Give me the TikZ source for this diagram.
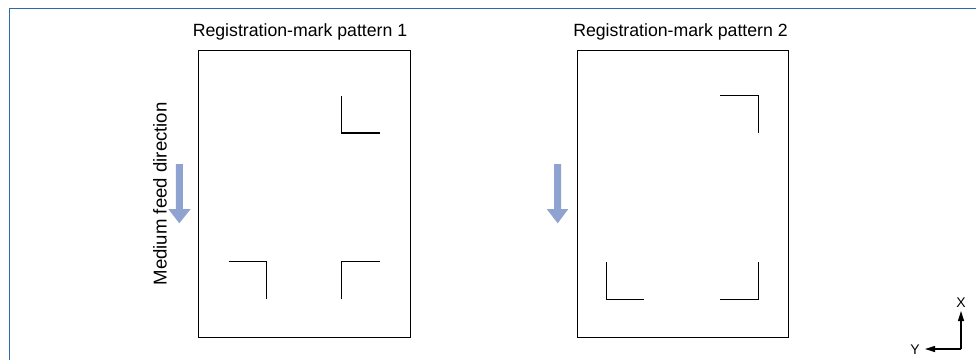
\documentclass[tikz,border=0pt]{standalone}
\usepackage{fontspec}
\setmainfont{Liberation Sans}
\usetikzlibrary{arrows.meta}
\definecolor{framecol}{RGB}{40,105,175}
\definecolor{feedcol}{RGB}{143,163,209}
\tikzset{
  sheet/.style={draw=black, line width=1pt, minimum width=211.7pt, minimum height=287pt, inner sep=0pt, anchor=north west},
  title/.style={font=\fontsize{17.7}{20}\selectfont, inner sep=0pt},
  regmark/.style={draw=black, line width=1.5pt, line cap=butt, line join=miter},
  feed/.style={fill=feedcol, draw=none},
  axis/.style={draw=black, line width=1.1pt, -{Triangle[length=10pt,width=6pt]}},
  axlabel/.style={font=\fontsize{14}{16}\selectfont, inner sep=0pt}
}
\begin{document}
\begin{tikzpicture}[x=1pt,y=-1pt]
\useasboundingbox (0,0) rectangle (976,360);
% frame
\draw[framecol, line width=1.5pt] (9.5,360) -- (9.5,8.5) -- (976,8.5);
% sheets
\node[sheet] (p1) at (198.3,50.3) {};
\node[sheet] (p2) at (576.7,50.3) {};
\node[title] (t1) at (300,31.5) {Registration-mark pattern 1};
\node[title] (t2) at (680.5,31.5) {Registration-mark pattern 2};
% marks pattern 1
\draw[regmark] (341.7,95.7) -- (341.7,133) -- (380,133);
\draw[regmark] (228.7,261.7) -- (266.7,261.7) -- (266.7,299.3);
\draw[regmark] (341.7,299.3) -- (341.7,261.7) -- (380,261.7);
% marks pattern 2
\draw[regmark] (720,95.7) -- (758.3,95.7) -- (758.3,133);
\draw[regmark] (606.7,262) -- (606.7,299.3) -- (644.3,299.3);
\draw[regmark] (720,299.3) -- (758.3,299.3) -- (758.3,262);
% feed arrows
\fill[feed] (175.8,164) -- (182.8,164) -- (182.8,209) -- (190.7,209) -- (179.3,223.3) -- (168.3,209) -- (175.8,209) -- cycle;
\fill[feed] (554.2,164) -- (561.2,164) -- (561.2,209) -- (568.3,209) -- (557.7,223.3) -- (546.7,209) -- (554.2,209) -- cycle;
\node[title, rotate=90, font=\fontsize{18.6}{20}\selectfont] (feedlabel) at (160,193.8) {Medium feed direction};
% axes
\coordinate (o) at (961,349);
\coordinate (xe) at (961,311);
\coordinate (ye) at (925,349);
\draw[axis] (o) -- (xe);
\draw[axis] (o) -- (ye);
\node[axlabel] (xl) at (961,302.5) {X};
\node[axlabel] (yl) at (915,349.5) {Y};
\end{tikzpicture}
\end{document}
